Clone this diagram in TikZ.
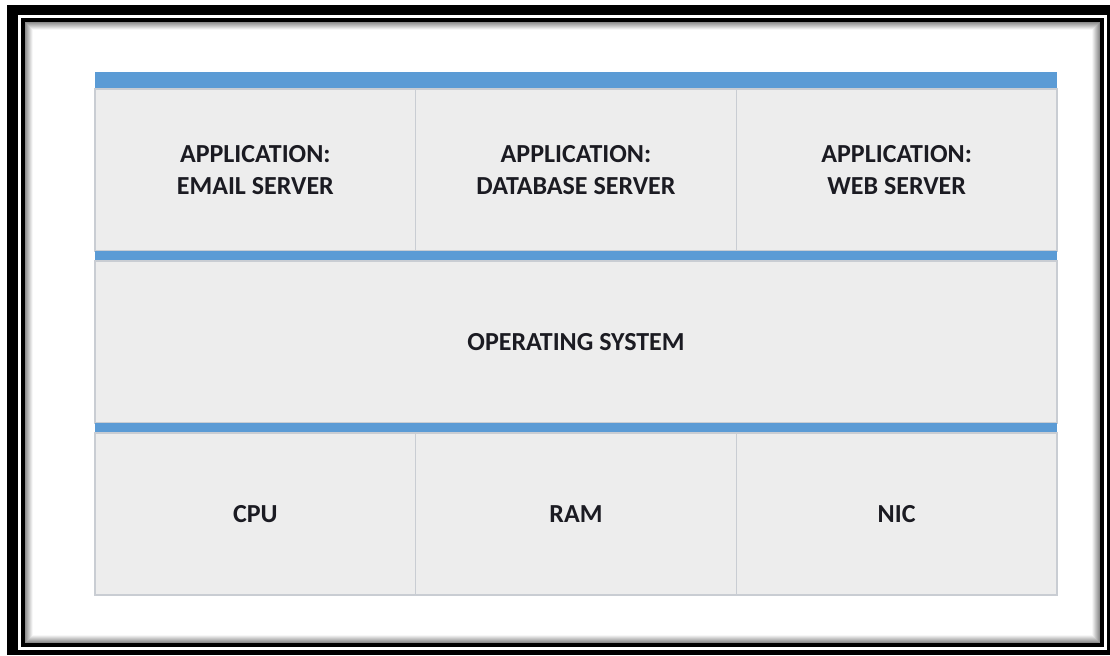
\documentclass[tikz,border=0pt]{standalone}
\usepackage{fontspec}
\setmainfont{Carlito}
\usetikzlibrary{positioning}
\definecolor{cellgray}{HTML}{EDEDED}
\definecolor{cellline}{HTML}{C9CDD3}
\definecolor{barblue}{HTML}{5B9BD5}
\definecolor{labeltext}{HTML}{1B1B22}
\tikzset{
    x=0.5pt, y=-0.5pt, % one unit is one pixel of the reference
    cell/.style={draw=cellline, line width=0.6pt, fill=cellgray, inner sep=0pt, outer sep=0pt,
        minimum width=160.33pt, minimum height=81pt, align=center, text=labeltext,
        font=\bfseries\fontsize{13}{16}\selectfont}, % sets the properties for each box
    wide/.style={cell, minimum width=481pt}, % a box as wide as the whole stack
    bar/.style={fill=barblue, inner sep=0pt, outer sep=0pt, minimum width=481pt, minimum height=5pt}, % blue separator
}
\begin{document}
\begin{tikzpicture}
\useasboundingbox (0,0) rectangle (1110,655);
\fill[white] (0,0) rectangle (1110,655);
% frame
\fill[black] (7,5) rectangle (1110,655);
\fill[white] (18,15) rectangle (1107,650);
\fill[black] (21,18) rectangle (1104,647);
\fill[white] (25,22) rectangle (1100,643);
\foreach \i in {0,...,7}
    \draw[black!\fpeval{45-6*\i}, line width=0.5pt] (25.5+\i,22.5+\i) rectangle (1099.5-\i,642.5-\i);
% stack
\node[bar, minimum height=8.5pt] (topbar) at (576,80.5) {};
\node[cell, below right=0pt and 0pt of topbar.south west] (email) {APPLICATION:\\EMAIL SERVER};
\node[cell, right=0pt of email] (database) {APPLICATION:\\DATABASE SERVER};
\node[cell, right=0pt of database] (web) {APPLICATION:\\WEB SERVER};
\node[bar, below right=0pt and 0pt of email.south west] (osbar) {};
\node[wide, below right=0pt and 0pt of osbar.south west] (os) {OPERATING SYSTEM};
\node[bar, below right=0pt and 0pt of os.south west] (hwbar) {};
\node[cell, below right=0pt and 0pt of hwbar.south west] (cpu) {CPU};
\node[cell, right=0pt of cpu] (ram) {RAM};
\node[cell, right=0pt of ram] (nic) {NIC};
\end{tikzpicture}
\end{document}
